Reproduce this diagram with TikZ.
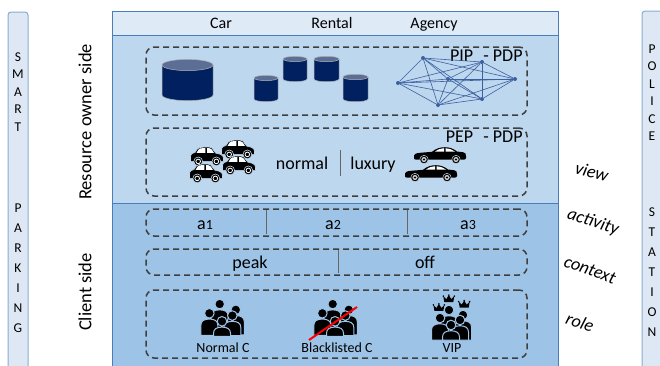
\documentclass[tikz,border=0pt]{standalone}
\usepackage{fontspec}
\setmainfont{Carlito}
\usetikzlibrary{positioning}

\definecolor{headfill}{HTML}{DEEBF7}
\definecolor{ownerfill}{HTML}{BDD7EE}
\definecolor{clientfill}{HTML}{9DC3E6}
\definecolor{framecol}{HTML}{4A7EBB}
\definecolor{barfill}{HTML}{DDE8F4}
\definecolor{dbnavy}{HTML}{002060}
\definecolor{dbtop}{HTML}{5A6E96}
\definecolor{netcol}{HTML}{3C5FA0}
\definecolor{dashcol}{HTML}{3F3F3F}
\definecolor{strike}{HTML}{FF0000}

% database drum: centre x, top y, half width, body height
\newcommand{\dbcyl}[4]{%
  \filldraw[fill=dbnavy,draw=gray!60,line width=0.5pt] (#1-#3,#2) -- ++(0,#4)
    arc[start angle=180,end angle=0,x radius=#3,y radius=0.22*#3] -- ++(0,-#4) -- cycle;
  \filldraw[fill=dbtop,draw=gray!60,line width=0.5pt] (#1,#2) ellipse [x radius=#3,y radius=0.22*#3];}

\tikzset{
  % small car, front to the right
  hatch/.pic={
    \filldraw[fill=black,draw=ownerfill,line width=0.6pt] (-15,4) -- (-15,-1)
      .. controls (-15,-3) and (-13,-3.5) .. (-11,-4) -- (-9,-7)
      .. controls (-8,-8.5) and (-6,-9) .. (-3,-9) -- (2,-9)
      .. controls (4,-9) and (5,-8) .. (6,-6) -- (8,-3.5) -- (12,-2.5)
      .. controls (14,-2) and (15,-0.5) .. (15,1.5) -- (15,4) -- cycle;
    \fill[white] (-9.5,-3.8) -- (-7.6,-6.8) .. controls (-7,-7.8) and (-6,-8) .. (-4,-8)
      -- (-1.5,-8) -- (-1.5,-3.8) -- cycle
      (0,-3.8) -- (0,-8) -- (2,-8) .. controls (3.5,-8) and (4.3,-7) .. (5.2,-5.5) -- (6.3,-3.8) -- cycle;
    \foreach \wx in {-8,8.5} {
      \filldraw[fill=black,draw=ownerfill,line width=0.6pt] (\wx,4) circle (4);
      \draw[white,line width=0.8pt] (\wx,4) circle (2.1);}
  },
  % long saloon, front to the left
  sedan/.pic={
    \fill[black] (-26,2) -- (-26,-0.5) .. controls (-26,-2) and (-24,-2.8) .. (-20,-3.2)
      -- (-8,-4.2) .. controls (-4,-7.5) and (0,-8.8) .. (5,-8.8)
      .. controls (10,-8.8) and (14,-7) .. (17,-4.5) -- (23,-3.8)
      .. controls (25.5,-3.5) and (26,-2) .. (26,0) -- (26,2)
      .. controls (26,3) and (25,3.6) .. (24,3.6) -- (-24,3.6)
      .. controls (-25.5,3.6) and (-26,3) .. (-26,2) -- cycle;
    \fill[white] (-5,-4.4) .. controls (-2,-6.8) and (1,-7.7) .. (4,-7.8) -- (4,-4.4) -- cycle
      (5.5,-4.4) -- (5.5,-7.8) .. controls (9,-7.8) and (12,-6.6) .. (15,-4.4) -- cycle;
    \foreach \wx in {-16,16} {
      \filldraw[fill=black,draw=ownerfill,line width=0.5pt] (\wx,3.5) circle (4.2);
      \fill[gray!45] (\wx,3.5) circle (2.6);
      \fill[black] (\wx,3.5) circle (1.1);}
  },
  pics/person/.style={code={
    \filldraw[fill=black,draw=clientfill,line width=1pt] (0,0) circle (4.8)
      (-8.5,#1) -- (-8.5,12) .. controls (-8.5,7.5) and (-5,5.8) .. (0,5.8)
      .. controls (5,5.8) and (8.5,7.5) .. (8.5,12) -- (8.5,#1) -- cycle;}},
  crown/.pic={
    \fill[black] (-4.5,0) -- (-5.5,-6) -- (-2.5,-3) -- (0,-7) -- (2.5,-3) -- (5.5,-6) -- (4.5,0) -- cycle;
    \fill[black] (-5.5,-6) circle (0.9) (0,-7) circle (0.9) (5.5,-6) circle (0.9);
  },
  crowd/.pic={
    \pic at (-2,-13) {person=30};
    \pic at (12,-8) {person=25};
    \pic at (-11,-5) {person=22};
    \pic at (9,-3) {person=20};
    \pic at (0,2) {person=15};
  },
  vip/.pic={
    \pic at (-2,-19) {crown};
    \pic at (12,-14) {crown};
    \pic at (-11,-11) {crown};
    \pic {crowd};
  }
}

\begin{document}
\begin{tikzpicture}[x=1pt,y=-1pt,font=\fontsize{18}{21}\selectfont]
  \tikzstyle{bar}=[fill=barfill,draw=framecol!65,line width=1pt,rounded corners=3pt]
  \tikzstyle{barchar}=[font=\fontsize{13.5}{15}\selectfont,inner sep=0pt]
  \tikzstyle{zone}=[draw=dashcol,line width=1.5pt,dash pattern=on 6pt off 4pt,rounded corners=8pt,inner sep=0pt]
  \tikzstyle{sep}=[draw=dashcol!80,line width=1pt]
  \tikzstyle{side}=[rotate=90,font=\fontsize{18.5}{20}\selectfont]
  \tikzstyle{facet}=[font=\fontsize{18}{20}\selectfont\itshape,inner sep=0pt]
  \tikzstyle{head}=[font=\fontsize{16}{18}\selectfont,anchor=base]
  \tikzstyle{who}=[font=\fontsize{14}{16}\selectfont,anchor=base,inner sep=0pt]
  \tikzstyle{peer}=[circle,fill=netcol,inner sep=0pt,minimum size=4pt]
  \tikzstyle{net}=[draw=netcol,line width=0.6pt]

  \useasboundingbox (0,0) rectangle (660,365);

  % side bars
  \draw[bar] (8,12) rectangle (28,380);
  \draw[bar] (642,11) rectangle (680,380);
  \foreach \ch [count=\k] in {S,M,A,R,T}
    \node[barchar] (sm\k) at (18,57+17.5*\k-17.5) {\ch};
  \foreach \ch [count=\k] in {P,A,R,K,I,N,G}
    \node[barchar] (pk\k) at (18,208+20*\k-20) {\ch};
  \foreach \ch [count=\k] in {P,O,L,I,C,E}
    \node[barchar] (po\k) at (652,49+17.5*\k-17.5) {\ch};
  \foreach \ch [count=\k] in {S,T,A,T,I,O,N}
    \node[barchar] (st\k) at (652,212+20*\k-20) {\ch};

  % agency frame
  \fill[clientfill] (112,203) rectangle (558,380);
  \fill[ownerfill] (112,35) rectangle (558,203);
  \fill[headfill] (112,11) rectangle (558,35);
  \draw[framecol,line width=0.8pt] (112,380) -- (112,11) -- (558,11) -- (558,380)
    (112,35) -- (558,35) (112,203) -- (558,203);
  \node[head] (car) at (221,28) {Car};
  \node[head] (rental) at (332,28) {Rental};
  \node[head] (agency) at (434,28) {Agency};

  \node[side] (owner) at (85,122) {Resource owner side};
  \node[side] (client) at (85,292) {Client side};

  % policy information
  \node[zone,minimum width=381,minimum height=68] (pip) at (336.5,81) {};
  \node[anchor=north east,inner sep=0pt] (piplab) at ([shift={(-5,3)}]pip.north east) {PIP\,\, - PDP};
  \dbcyl{187.5}{65}{25.5}{30}
  \dbcyl{266}{78}{12}{21}
  \dbcyl{295}{59}{12}{20}
  \dbcyl{326.5}{59}{12.5}{20}
  \dbcyl{355.5}{77}{12.5}{22}
  \node[peer] (n1) at (423,58) {};
  \node[peer] (n2) at (482,62) {};
  \node[peer] (n3) at (398,83) {};
  \node[peer] (n4) at (448,79) {};
  \node[peer] (n5) at (515,79) {};
  \node[peer] (n6) at (438,105) {};
  \node[peer] (n7) at (482,99) {};
  \foreach \i in {1,...,6} {
    \pgfmathtruncatemacro\nx{\i+1}
    \foreach \j in {\nx,...,7}
      \draw[net] (n\i) -- (n\j);
  }

  % policy enforcement
  \node[zone,minimum width=381,minimum height=68] (pep) at (336.5,162) {};
  \node[anchor=north east,inner sep=0pt] (peplab) at ([shift={(-5,3)}]pep.north east) {PEP\,\, - PDP};
  \pic[scale=1.1] at (238,150) {hatch};
  \pic[scale=1.1] at (207,157) {hatch};
  \pic[scale=1.1] at (239,166) {hatch};
  \pic[scale=1.1] at (206,174) {hatch};
  \node[anchor=base] (normal) at (302,169) {normal};
  \node[anchor=base] (luxury) at (373,169) {luxury};
  \draw[sep] (340,150) -- (340,176);
  \pic at (440,156) {sedan};
  \pic at (431,174) {sedan};

  % activities
  \node[zone,minimum width=381,minimum height=27] (act) at (336.5,222.5) {};
  \node[anchor=base] (a1) at (205,229) {a{\fontsize{14}{16}\selectfont 1}};
  \node[anchor=base] (a2) at (333,229) {a{\fontsize{14}{16}\selectfont 2}};
  \node[anchor=base] (a3) at (468,229) {a{\fontsize{14}{16}\selectfont 3}};
  \draw[sep] (266,210) -- (266,234);
  \draw[sep] (407,210) -- (407,234);

  % context
  \node[zone,minimum width=381,minimum height=26] (ctx) at (336.5,262) {};
  \node[anchor=base] (peak) at (250,268) {peak};
  \node[anchor=base] (off) at (425,268) {off};
  \draw[sep] (338,250) -- (338,273);

  % roles
  \node[zone,minimum width=381,minimum height=68] (role) at (336.5,324) {};
  \pic[scale=1.15] at (222,319) {crowd};
  \pic[scale=1.15] at (335,319) {crowd};
  \pic[scale=1.1] at (451,323) {vip};
  \coordinate (cut1) at (309,340);
  \coordinate (cut2) at (357,307);
  \draw[strike,line width=2pt] (cut1) -- (cut2);
  \node[who] (normalc) at (223,352) {Normal C};
  \node[who] (blackc) at (337,352) {Blacklisted C};
  \node[who] (vipc) at (452,352) {VIP};

  % facets
  \node[facet,rotate=-15] (view) at (592,172) {view};
  \node[facet,rotate=-18] (activity) at (593,222) {activity};
  \node[facet,rotate=-20] (context) at (590,270) {context};
  \node[facet,rotate=-20] (rolelab) at (580,322) {role};
\end{tikzpicture}
\end{document}
